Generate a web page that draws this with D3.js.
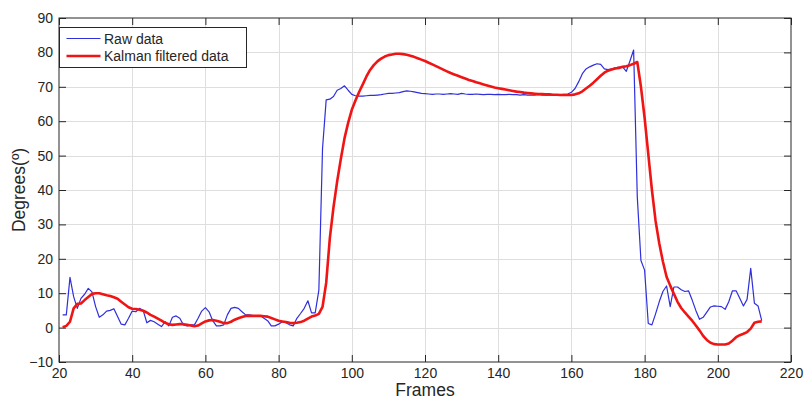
<!DOCTYPE html>
<html>
<head>
<meta charset="utf-8">
<script src="https://cdn.jsdelivr.net/npm/d3@7"></script>
<style>
body { margin:0; background:#fff; }
svg text { font-family:"Liberation Sans", Arial, Helvetica, sans-serif; fill:#262626; }
</style>
</head>
<body>
<svg id="chart" width="806" height="401"></svg>
<script>
var svgW = 806, svgH = 401;
var margin = {top:18, right:15, bottom:39, left:59};

// frame numbers of the samples
var firstFrame = 21;

// raw sensor angle, one value per frame (21..212)
var raw = [
  3.7, 3.7, 14.6, 9.0, 5.6, 8.5, 9.7, 11.4, 10.4, 6.1,
  3.0, 3.7, 4.8, 5.0, 5.5, 3.2, 1.0, 0.8, 2.7, 4.8,
  4.6, 5.6, 5.0, 1.4, 2.1, 1.7, 1.0, 0.3, 1.7, 0.5,
  3.0, 3.4, 2.7, 0.8, 0.5, 0.8, 0.8, 2.7, 4.8, 5.8,
  4.6, 2.0, 0.5, 0.5, 0.8, 3.7, 5.6, 5.9, 5.6, 4.6,
  3.7, 3.7, 3.5, 3.5, 3.5, 2.7, 2.0, 0.5, 0.5, 1.0,
  1.7, 1.4, 0.8, 0.5, 2.7, 4.1, 5.6, 7.8, 4.3, 4.3,
  10.9, 52.0, 66.2, 66.4, 67.2, 69.0, 69.5, 70.3, 69.0, 67.8,
  67.4, 67.3, 67.3, 67.4, 67.5, 67.5, 67.6, 67.7, 67.9, 68.1,
  68.1, 68.2, 68.3, 68.6, 68.8, 68.7, 68.5, 68.3, 68.1, 68.0,
  67.9, 67.8, 67.9, 67.9, 67.8, 67.9, 68.0, 67.9, 67.8, 68.1,
  67.9, 67.8, 67.8, 67.9, 67.8, 67.7, 67.8, 67.8, 67.7, 67.8,
  67.7, 67.7, 67.8, 67.7, 67.7, 67.6, 67.7, 67.6, 67.6, 67.6,
  67.7, 67.6, 67.6, 67.6, 67.6, 67.7, 67.7, 67.8, 67.9, 68.4,
  69.5, 71.5, 73.8, 75.2, 75.8, 76.3, 76.7, 76.5, 75.2, 75.0,
  75.2, 75.5, 75.7, 75.8, 74.5, 77.5, 80.7, 38.0, 19.5, 16.7,
  1.2, 0.8, 4.0, 7.5, 10.5, 12.1, 6.1, 11.8, 11.8, 11.0,
  10.5, 10.7, 8.0, 5.0, 2.4, 3.0, 4.5, 6.0, 6.3, 6.2,
  6.1, 5.3, 7.5, 10.7, 10.7, 8.5, 6.3, 8.2, 17.2, 7.1,
  6.3, 2.0
];

// kalman filtered angle, same frames
var kalman = [
  0.1, 0.5, 1.7, 5.6, 6.9, 7.0, 8.0, 8.9, 9.8, 10.0,
  10.0, 9.7, 9.4, 9.2, 8.8, 8.4, 7.5, 6.7, 5.9, 5.5,
  5.4, 5.2, 4.9, 4.4, 3.7, 3.2, 2.6, 2.0, 1.4, 1.0,
  0.8, 0.9, 1.0, 1.0, 0.8, 0.6, 0.4, 0.6, 1.2, 1.8,
  2.1, 2.2, 2.0, 1.7, 1.3, 1.3, 1.7, 2.3, 2.7, 3.1,
  3.4, 3.4, 3.4, 3.4, 3.4, 3.3, 3.2, 2.8, 2.4, 2.0,
  1.8, 1.6, 1.4, 1.3, 1.4, 1.6, 2.0, 2.6, 3.2, 3.5,
  4.0, 6.0, 13.0, 26.0, 35.0, 42.5, 49.0, 55.0, 59.5, 63.3,
  66.0, 68.5, 70.7, 73.0, 74.9, 76.3, 77.4, 78.2, 78.8, 79.2,
  79.4, 79.6, 79.6, 79.5, 79.3, 79.0, 78.7, 78.3, 77.9, 77.5,
  77.0, 76.5, 76.0, 75.5, 75.0, 74.5, 74.0, 73.6, 73.2, 72.8,
  72.4, 72.0, 71.7, 71.3, 71.0, 70.7, 70.4, 70.1, 69.8, 69.6,
  69.4, 69.2, 69.0, 68.8, 68.6, 68.5, 68.3, 68.2, 68.1, 68.0,
  67.9, 67.9, 67.8, 67.8, 67.7, 67.7, 67.6, 67.6, 67.6, 67.6,
  67.8, 68.1, 68.7, 69.5, 70.3, 71.2, 72.2, 73.2, 74.1, 74.7,
  75.0, 75.3, 75.5, 75.8, 76.0, 76.3, 76.7, 77.2, 70.0, 61.0,
  50.5, 40.0, 31.0, 24.5, 19.2, 14.8, 12.2, 9.8, 7.5, 5.7,
  4.4, 3.2, 2.0, 0.6, -0.8, -2.4, -3.6, -4.4, -4.8, -4.9,
  -4.9, -4.9, -4.6, -3.8, -2.8, -2.2, -1.8, -1.3, -0.3, 1.4,
  1.7, 1.8
];

var xTicks = [20, 40, 60, 80, 100, 120, 140, 160, 180, 200, 220];
var yTicks = [-10, 0, 10, 20, 30, 40, 50, 60, 70, 80, 90];
var seriesNames = ['Raw data', 'Kalman filtered data'];
var seriesColors = ['#2f2fdc', '#f01414'];
var seriesWidths = [1.2, 2.6];

var frames = raw.map(function(d, i){ return firstFrame + i; });

var x = d3.scaleLinear().domain([20, 220]).range([margin.left, svgW - margin.right]);
var y = d3.scaleLinear().domain([-10, 90]).range([svgH - margin.bottom, margin.top]);

var svg = d3.select('#chart');

// grid
var grid = svg.append('g').attr('stroke', '#dedede').attr('stroke-width', 1);
grid.selectAll('line.vx')
  .data(xTicks.slice(1, -1)).enter()
  .append('line')
    .attr('x1', function(d){ return Math.round(x(d)) + 0.5; })
    .attr('x2', function(d){ return Math.round(x(d)) + 0.5; })
    .attr('y1', y(90)).attr('y2', y(-10));
grid.selectAll('line.hy')
  .data(yTicks.slice(1, -1)).enter()
  .append('line')
    .attr('y1', function(d){ return Math.round(y(d)) + 0.5; })
    .attr('y2', function(d){ return Math.round(y(d)) + 0.5; })
    .attr('x1', x(20)).attr('x2', x(220));

// axes, ticks pointing inward on all four sides
function styleAxis(g) {
  g.select('.domain').remove();
  g.selectAll('.tick line').attr('stroke', '#262626');
  g.selectAll('.tick text').attr('font-size', 14).style('font-family', '"Liberation Sans", Arial, sans-serif').attr('fill', '#262626');
}

svg.append('g')
  .attr('transform', 'translate(0,' + y(-10) + ')')
  .call(d3.axisBottom(x).tickValues(xTicks).tickSizeInner(-7).tickSizeOuter(0).tickPadding(6))
  .call(styleAxis);

svg.append('g')
  .attr('transform', 'translate(0,' + y(90) + ')')
  .call(d3.axisTop(x).tickValues(xTicks).tickSizeInner(-7).tickSizeOuter(0).tickFormat(''))
  .call(styleAxis);

svg.append('g')
  .attr('transform', 'translate(' + x(20) + ',0)')
  .call(d3.axisLeft(y).tickValues(yTicks).tickSizeInner(-7).tickSizeOuter(0).tickPadding(6))
  .call(styleAxis);

svg.append('g')
  .attr('transform', 'translate(' + x(220) + ',0)')
  .call(d3.axisRight(y).tickValues(yTicks).tickSizeInner(-7).tickSizeOuter(0).tickFormat(''))
  .call(styleAxis);

// lines
var line = d3.line()
  .x(function(d){ return x(d[0]); })
  .y(function(d){ return y(d[1]); });

[raw, kalman].forEach(function(s, k){
  svg.append('path')
    .datum(frames.map(function(f, i){ return [f, s[i]]; }))
    .attr('fill', 'none')
    .attr('stroke', seriesColors[k])
    .attr('stroke-width', seriesWidths[k])
    .attr('stroke-linejoin', 'round')
    .attr('d', line);
});

// box
svg.append('rect')
  .attr('x', x(20)).attr('y', y(90))
  .attr('width', x(220) - x(20)).attr('height', y(-10) - y(90))
  .attr('fill', 'none').attr('stroke', '#262626').attr('stroke-width', 1);

// axis labels
svg.append('text')
  .attr('x', (x(20) + x(220)) / 2).attr('y', 396)
  .attr('text-anchor', 'middle').attr('font-size', 17.5)
  .text('Frames');

svg.append('text')
  .attr('transform', 'translate(25,' + (y(-10) + y(90)) / 2 + ') rotate(-90)')
  .attr('text-anchor', 'middle').attr('font-size', 17.5)
  .text('Degrees(º)');

// legend
var legend = svg.append('g').attr('transform', 'translate(59.5,27.5)');
legend.append('rect')
  .attr('width', 187).attr('height', 40)
  .attr('fill', '#fff').attr('stroke', '#262626').attr('stroke-width', 1);
seriesNames.forEach(function(n, k){
  var ly = 11 + k * 17.5;
  legend.append('line')
    .attr('x1', 7).attr('x2', 41).attr('y1', ly).attr('y2', ly)
    .attr('stroke', seriesColors[k]).attr('stroke-width', seriesWidths[k]);
  legend.append('text')
    .attr('x', 44.5).attr('y', ly + 5)
    .attr('font-size', 14)
    .text(n);
});
</script>
</body>
</html>
